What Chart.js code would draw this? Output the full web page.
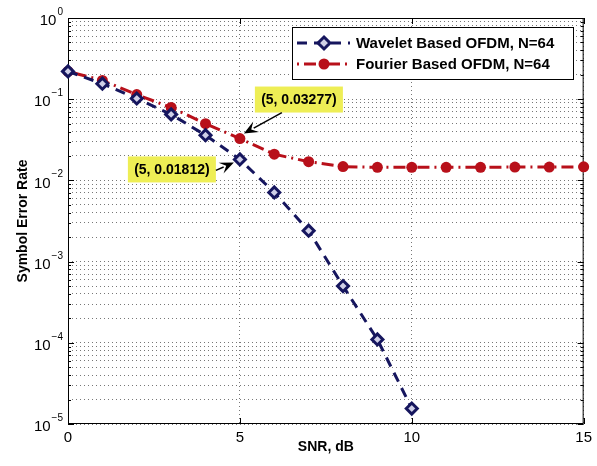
<!DOCTYPE html>
<html>
<head>
<meta charset="utf-8">
<script src="https://cdn.jsdelivr.net/npm/chart.js@4.4.0/dist/chart.umd.min.js"></script>
<style>
  html, body { margin: 0; padding: 0; background: #fff; }
  #wrap { width: 597px; height: 466px; }
</style>
</head>
<body>
<div id="wrap"><canvas id="myChart" width="597" height="466"></canvas></div>
<script>
// data
const snrWavelet = [0, 1, 2, 3, 4, 5, 6, 7, 8, 9, 10];
const serWavelet = [0.22, 0.155, 0.102, 0.065, 0.036, 0.01812, 0.0071, 0.0024, 0.0005, 0.00011, 0.0000155];
const snrFourier = [0, 1, 2, 3, 4, 5, 6, 7, 8, 9, 10, 11, 12, 13, 14, 15];
const serFourier = [0.22, 0.17, 0.114, 0.079, 0.050, 0.03277, 0.021, 0.017, 0.0148, 0.0145, 0.0145, 0.0145, 0.0145, 0.0146, 0.0146, 0.0147];
const xTickVals = [0, 5, 10, 15];
const yExps = [0, -1, -2, -3, -4, -5];
const seriesNames = ['Wavelet Based OFDM, N=64', 'Fourier Based OFDM, N=64'];
const callouts = [
  { ds: 1, idx: 5, text: '(5, 0.03277)' },
  { ds: 0, idx: 5, text: '(5, 0.01812)' }
];

const NAVY = '#16165e';
const RED = '#b8101a';
const FONT = '"Liberation Sans", Arial, sans-serif';

function toXY(xs, ys) {
  return xs.map((x, i) => ({ x: x, y: ys[i] }));
}

// y ticks: every 1..9 x 10^n between 1e-5 and 1
function logTicks() {
  const t = [];
  for (let e = -5; e < 0; e++) {
    for (let m = 1; m <= 9; m++) t.push({ value: m * Math.pow(10, e) });
  }
  t.push({ value: 1 });
  return t;
}

function drawDiamond(ctx, x, y, r) {
  ctx.beginPath();
  ctx.moveTo(x, y - r);
  ctx.lineTo(x + r, y);
  ctx.lineTo(x, y + r);
  ctx.lineTo(x - r, y);
  ctx.closePath();
  ctx.fillStyle = '#d0d0e8';
  ctx.fill();
  ctx.lineWidth = 3;
  ctx.strokeStyle = NAVY;
  ctx.stroke();
}

function drawArrow(ctx, x1, y1, x2, y2) {
  const a = Math.atan2(y2 - y1, x2 - x1);
  const hl = 14, hw = 6;
  ctx.strokeStyle = '#000';
  ctx.lineWidth = 1.5;
  ctx.beginPath();
  ctx.moveTo(x1, y1);
  ctx.lineTo(x2 - hl * 0.8 * Math.cos(a), y2 - hl * 0.8 * Math.sin(a));
  ctx.stroke();
  ctx.fillStyle = '#000';
  ctx.beginPath();
  ctx.moveTo(x2, y2);
  ctx.lineTo(x2 - hl * Math.cos(a) + hw * Math.sin(a), y2 - hl * Math.sin(a) - hw * Math.cos(a));
  ctx.lineTo(x2 - hl * 0.6 * Math.cos(a), y2 - hl * 0.6 * Math.sin(a));
  ctx.lineTo(x2 - hl * Math.cos(a) - hw * Math.sin(a), y2 - hl * Math.sin(a) + hw * Math.cos(a));
  ctx.closePath();
  ctx.fill();
}

// box, inner ticks and y labels
const frame = {
  id: 'frame',
  beforeDatasetsDraw(chart) {
    const ctx = chart.ctx;
    const a = chart.chartArea;
    const ys = chart.scales.y, xs = chart.scales.x;
    ctx.save();
    ctx.strokeStyle = '#000';
    ctx.lineWidth = 1;
    ctx.setLineDash([]);
    ctx.strokeRect(a.left + 0.5, a.top + 0.5, a.right - a.left - 1, a.bottom - a.top - 1);
    ctx.beginPath();
    ys.ticks.forEach(t => {
      const py = Math.round(ys.getPixelForValue(t.value)) + 0.5;
      const major = Math.abs(Math.log10(t.value) % 1) < 1e-9;
      const len = major ? 6 : 3;
      ctx.moveTo(a.left, py); ctx.lineTo(a.left + len, py);
      ctx.moveTo(a.right, py); ctx.lineTo(a.right - len, py);
    });
    xTickVals.forEach(v => {
      const px = Math.round(xs.getPixelForValue(v)) + 0.5;
      ctx.moveTo(px, a.bottom); ctx.lineTo(px, a.bottom - 6);
      ctx.moveTo(px, a.top); ctx.lineTo(px, a.top + 6);
    });
    ctx.stroke();

    // 10^n labels
    ctx.fillStyle = '#000';
    yExps.forEach(e => {
      const py = ys.getPixelForValue(Math.pow(10, e));
      const ex = String(e).replace('-', '\u2212');
      ctx.font = '10px ' + FONT;
      const ew = ctx.measureText(ex).width;
      ctx.textAlign = 'left';
      ctx.textBaseline = 'alphabetic';
      const right = 63;
      ctx.fillText(ex, right - ew, py - 3);
      ctx.font = '15px ' + FONT;
      ctx.textAlign = 'right';
      ctx.textBaseline = 'middle';
      ctx.fillText('10', right - ew - 1, py + 3);
    });
    ctx.restore();
  },
  afterDraw(chart) {
    const ctx = chart.ctx;
    ctx.save();

    // legend
    const lx = 292, ly = 27, lw = 281, lh = 52;
    ctx.fillStyle = '#fff';
    ctx.fillRect(lx, ly, lw, lh);
    ctx.strokeStyle = '#000';
    ctx.lineWidth = 1;
    ctx.strokeRect(lx + 0.5, ly + 0.5, lw, lh);
    const rows = [ly + 16, ly + 37];
    // wavelet row
    ctx.lineWidth = 3;
    ctx.strokeStyle = NAVY;
    ctx.setLineDash([10, 7]);
    ctx.beginPath(); ctx.moveTo(lx + 5, rows[0]); ctx.lineTo(lx + 58, rows[0]); ctx.stroke();
    ctx.setLineDash([]);
    drawDiamond(ctx, lx + 32, rows[0], 6);
    // fourier row
    ctx.lineWidth = 3;
    ctx.strokeStyle = RED;
    ctx.setLineDash([2, 5, 12, 5]);
    ctx.beginPath(); ctx.moveTo(lx + 5, rows[1]); ctx.lineTo(lx + 58, rows[1]); ctx.stroke();
    ctx.setLineDash([]);
    ctx.fillStyle = RED;
    ctx.beginPath(); ctx.arc(lx + 32, rows[1], 5.5, 0, Math.PI * 2); ctx.fill();
    ctx.fillStyle = '#000';
    ctx.font = 'bold 15px ' + FONT;
    ctx.textAlign = 'left';
    ctx.textBaseline = 'middle';
    ctx.fillText(seriesNames[0], lx + 64, rows[0] + 1);
    ctx.fillText(seriesNames[1], lx + 64, rows[1] + 1);

    // data tip callouts
    ctx.font = 'bold 14px ' + FONT;
    callouts.forEach((c, i) => {
      const p = chart.getDatasetMeta(c.ds).data[c.idx];
      let bx, by, ax, ay, tx, ty;
      if (i === 0) {
        bx = p.x + 15; by = p.y - 52;
        ax = p.x + 42; ay = p.y - 26; tx = p.x + 4; ty = p.y - 5;
      } else {
        bx = p.x - 112; by = p.y - 3;
        ax = p.x - 24; ay = p.y + 11; tx = p.x - 6; ty = p.y + 3;
      }
      const bw = 88, bh = 26;
      ctx.fillStyle = '#eeee55';
      ctx.fillRect(bx, by, bw, bh);
      ctx.fillStyle = '#000';
      ctx.textAlign = 'center';
      ctx.textBaseline = 'middle';
      ctx.fillText(c.text, bx + bw / 2, by + bh / 2 + 1);
      drawArrow(ctx, ax, ay, tx, ty);
    });
    ctx.restore();
  }
};

const ctx = document.getElementById('myChart').getContext('2d');
new Chart(ctx, {
  type: 'line',
  data: {
    datasets: [{
      label: seriesNames[0],
      data: toXY(snrWavelet, serWavelet),
      borderColor: NAVY,
      borderWidth: 3,
      borderDash: [10, 7],
      pointStyle: 'rectRot',
      pointRadius: 5.5,
      pointBorderWidth: 3,
      pointBackgroundColor: '#d0d0e8',
      pointBorderColor: NAVY,
      fill: false,
      tension: 0
    }, {
      label: seriesNames[1],
      data: toXY(snrFourier, serFourier),
      borderColor: RED,
      borderWidth: 3,
      borderDash: [2, 5, 12, 5],
      pointStyle: 'circle',
      pointRadius: 5.5,
      pointBorderWidth: 0,
      pointBackgroundColor: RED,
      pointBorderColor: RED,
      fill: false,
      tension: 0
    }]
  },
  options: {
    responsive: false,
    animation: false,
    devicePixelRatio: 1,
    clip: false,
    layout: { padding: { left: 0, right: 9, top: 18, bottom: 0 } },
    plugins: {
      legend: { display: false },
      tooltip: { enabled: false }
    },
    scales: {
      x: {
        type: 'linear',
        min: 0,
        max: 15,
        afterBuildTicks: s => { s.ticks = xTickVals.map(v => ({ value: v })); },
        afterFit: s => { s.height = 42; },
        ticks: {
          color: '#000',
          font: { family: FONT, size: 15 },
          padding: 5,
          maxRotation: 0
        },
        grid: { color: '#777', drawTicks: false, lineWidth: 1 },
        border: { display: false, dash: [1, 3] },
        title: {
          display: true,
          text: 'SNR, dB',
          color: '#000',
          font: { family: FONT, size: 14, weight: 'bold' },
          padding: { top: 0, bottom: 10 }
        }
      },
      y: {
        type: 'logarithmic',
        min: 0.00001,
        max: 1,
        afterBuildTicks: s => { s.ticks = logTicks(); },
        afterFit: s => { s.width = 68; },
        ticks: { display: false, autoSkip: false },
        grid: { color: '#777', drawTicks: false, lineWidth: 1 },
        border: { display: false, dash: [1, 3] },
        title: {
          display: true,
          text: 'Symbol Error Rate',
          color: '#000',
          font: { family: FONT, size: 14, weight: 'bold' },
          padding: { top: 15, bottom: 0 }
        }
      }
    }
  },
  plugins: [frame]
});
</script>
</body>
</html>
